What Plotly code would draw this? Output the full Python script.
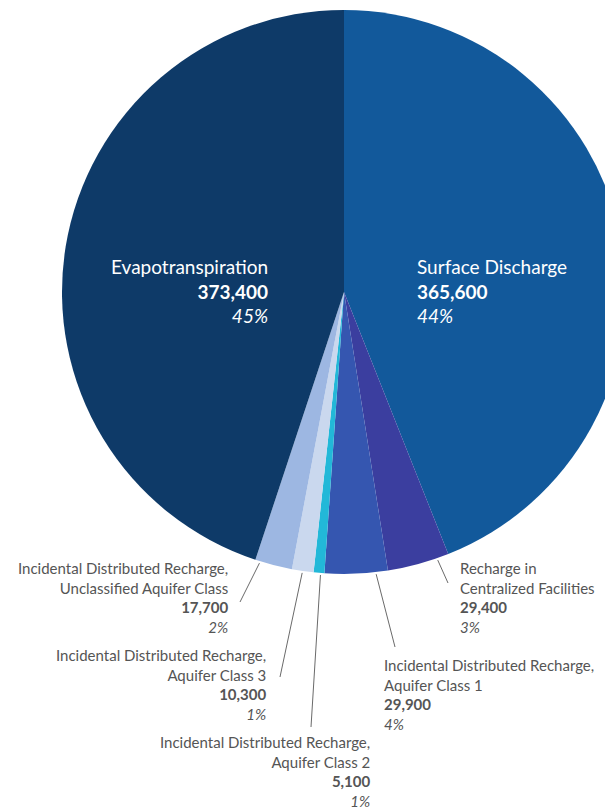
import math
import plotly.graph_objects as go

# water budget components, clockwise from 12 o'clock
labels = [
    "Surface Discharge",
    "Recharge in<br>Centralized Facilities",
    "Incidental Distributed Recharge,<br>Aquifer Class 1",
    "Incidental Distributed Recharge,<br>Aquifer Class 2",
    "Incidental Distributed Recharge,<br>Aquifer Class 3",
    "Incidental Distributed Recharge,<br>Unclassified Aquifer Class",
    "Evapotranspiration",
]
values = [365600, 29400, 29900, 5100, 10300, 17700, 373400]
percents = ["44%", "3%", "4%", "1%", "1%", "2%", "45%"]
colors = ["#12599b", "#3b3e9f", "#3556b0", "#22b8d8", "#cad8ee", "#9db7e2", "#0e3a68"]

# page has an 8px body margin, so the figure is shifted by OFF
OFF = 8
W, H = 690, 811 - OFF
CX, CY, R = 344, 292, 282
FONT = "Lato"


def px(x):
    return (x - OFF) / W


def py(y):
    return 1 - (y - OFF) / H


fig = go.Figure(
    go.Pie(
        labels=labels,
        values=values,
        sort=False,
        direction="clockwise",
        rotation=0,
        marker=dict(colors=colors, line=dict(width=0)),
        textinfo="none",
        hoverinfo="label+value+percent",
        domain=dict(x=[px(CX - R), px(CX + R)], y=[py(CY + R), py(CY - R)]),
    )
)

total = sum(values)


def edge_point(i, frac, extra=2):
    start = sum(values[:i]) / total
    a = 2 * math.pi * (start + frac * values[i] / total)
    return CX + (R + extra) * math.sin(a), CY - (R + extra) * math.cos(a)


# big labels inside the two main slices
inside = [(6, 270, 253, "right"), (0, 415, 253, "left")]
for i, x, y, side in inside:
    fig.add_annotation(
        x=px(x), y=py(y), xref="paper", yref="paper",
        xanchor=side, yanchor="top", align=side, showarrow=False,
        text=f"{labels[i]}<br><b>{values[i]:,}</b><br><i>{percents[i]}</i>",
        font=dict(family=FONT, size=19, color="white"),
    )

# small slices: (index, position in slice, text x, text top y, side, line end x, line end y)
outside = [
    (1, 0.19, 458, 557, "left", 448, 583),
    (2, 0.19, 382, 654, "left", 395, 647),
    (3, 0.35, 372, 731, "right", 311, 727),
    (4, 0.51, 268, 644, "right", 280, 677),
    (5, 0.87, 230, 557, "right", 240, 602),
]
for i, frac, x, y, side, lx, ly in outside:
    fig.add_annotation(
        x=px(x), y=py(y), xref="paper", yref="paper",
        xanchor=side, yanchor="top", align=side, showarrow=False,
        text=f"{labels[i]}<br><b>{values[i]:,}</b><br><i>{percents[i]}</i>",
        font=dict(family=FONT, size=15, color="#555555"),
    )
    sx, sy = edge_point(i, frac)
    fig.add_shape(
        type="line", xref="paper", yref="paper",
        x0=px(sx), y0=py(sy), x1=px(lx), y1=py(ly),
        line=dict(color="#6a6a6a", width=1),
    )

fig.update_layout(
    width=W,
    height=H,
    margin=dict(l=0, r=0, t=0, b=0),
    showlegend=False,
    paper_bgcolor="white",
    plot_bgcolor="white",
    font=dict(family=FONT),
)

fig.write_html("out.html")
